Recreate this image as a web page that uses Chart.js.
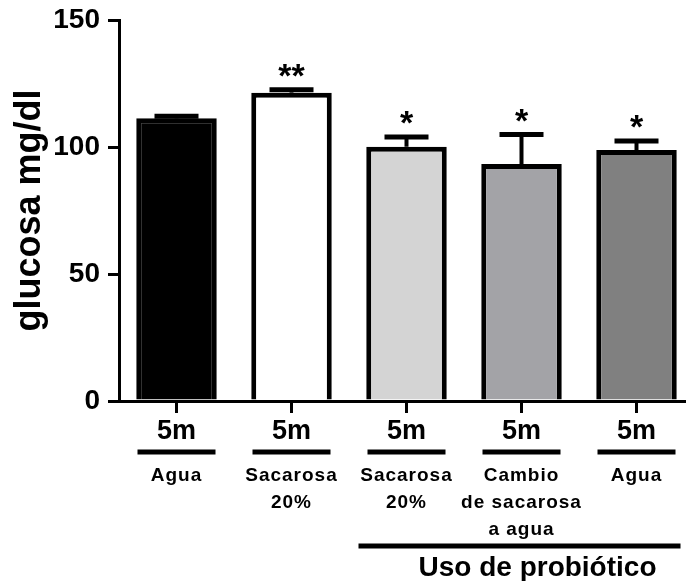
<!DOCTYPE html>
<html>
<head>
<meta charset="utf-8">
<script src="https://cdn.jsdelivr.net/npm/chart.js@4/dist/chart.umd.min.js"></script>
<style>
  html, body { margin: 0; padding: 0; background: #fff; overflow: hidden; }
  #wrap { width: 686px; height: 581px; overflow: hidden; position: relative; }
  #box { width: 710px; height: 581px; }
</style>
</head>
<body>
<div id="wrap"><div id="box"><canvas id="chart"></canvas></div></div>
<script>
const timeLabels = ['5m', '5m', '5m', '5m', '5m'];
const groupLabels = [
  ['Agua'],
  ['Sacarosa', '20%'],
  ['Sacarosa', '20%'],
  ['Cambio', 'de sacarosa', 'a agua'],
  ['Agua']
];
const glucose = [111.3, 121.4, 100.1, 93.3, 98.8];
const errorTop = [112.1, 122.5, 103.9, 104.9, 102.4];
const stars = ['', '**', '*', '*', '*'];
const barColors = ['#000000', '#ffffff', '#d4d4d4', '#a3a3a7', '#808080'];
const yTicks = [0, 50, 100, 150];
const probioticLabel = 'Uso de probiótico';
const probioticFrom = 2;
const probioticTo = 4;

const FONT = "Arial, 'Liberation Sans', sans-serif";

const annotations = {
  id: 'annotations',
  afterDatasetsDraw(chart) {
    const { ctx, scales: { x, y } } = chart;
    ctx.save();
    ctx.strokeStyle = '#000';
    ctx.fillStyle = '#000';

    // error bars + significance marks
    glucose.forEach((v, i) => {
      const cx = x.getPixelForValue(i);
      const yBar = y.getPixelForValue(v);
      const yErr = y.getPixelForValue(errorTop[i]);
      ctx.lineWidth = 4;
      ctx.beginPath();
      ctx.moveTo(cx, yBar);
      ctx.lineTo(cx, yErr);
      ctx.stroke();
      ctx.lineWidth = 5;
      ctx.beginPath();
      ctx.moveTo(cx - 22, yErr);
      ctx.lineTo(cx + 22, yErr);
      ctx.stroke();

      if (stars[i]) {
        ctx.font = `bold 34px ${FONT}`;
        ctx.textAlign = 'center';
        ctx.textBaseline = 'alphabetic';
        ctx.fillText(stars[i], cx, yErr - 3);
      }
    });
    ctx.restore();
  },
  afterDraw(chart) {
    const { ctx, scales: { x } } = chart;
    ctx.save();
    ctx.fillStyle = '#000';
    ctx.strokeStyle = '#000';

    // underline + group text for each bar
    groupLabels.forEach((lines, i) => {
      const cx = x.getPixelForValue(i);
      ctx.lineWidth = 5;
      ctx.beginPath();
      ctx.moveTo(cx - 39, 452);
      ctx.lineTo(cx + 39, 452);
      ctx.stroke();

      ctx.font = `bold 19px ${FONT}`;
      ctx.letterSpacing = '1px';
      ctx.textAlign = 'center';
      ctx.textBaseline = 'middle';
      lines.forEach((t, k) => {
        ctx.fillText(t, cx, 476 + k * 27);
      });
    });

    // probiotic bracket
    const x0 = x.getPixelForValue(probioticFrom) - 48;
    const x1 = x.getPixelForValue(probioticTo) + 44;
    ctx.lineWidth = 5;
    ctx.beginPath();
    ctx.moveTo(x0, 546);
    ctx.lineTo(x1, 546);
    ctx.stroke();

    ctx.letterSpacing = '0px';
    ctx.font = `bold 28px ${FONT}`;
    ctx.textAlign = 'center';
    ctx.textBaseline = 'middle';
    ctx.fillText(probioticLabel, x.getPixelForValue(3) + 16, 568);
    ctx.restore();
  }
};

new Chart(document.getElementById('chart'), {
  type: 'bar',
  data: {
    labels: timeLabels,
    datasets: [{
      data: glucose,
      backgroundColor: barColors,
      borderColor: '#000',
      borderWidth: 5,
      categoryPercentage: 1,
      barPercentage: 0.7
    }]
  },
  options: {
    responsive: true,
    maintainAspectRatio: false,
    animation: false,
    layout: { padding: { top: 20, right: 16, left: 0, bottom: 0 } },
    plugins: {
      legend: { display: false },
      tooltip: { enabled: false }
    },
    scales: {
      x: {
        afterFit: (scale) => { scale.height = 180; },
        border: { color: '#000', width: 3 },
        grid: {
          offset: false,
          drawOnChartArea: false,
          color: '#000',
          lineWidth: 3,
          tickLength: 12
        },
        ticks: {
          color: '#000',
          padding: 2,
          font: { family: FONT, size: 27, weight: 'bold' }
        }
      },
      y: {
        min: 0,
        max: 150,
        afterFit: (scale) => {
          scale.width = 119;
          scale.paddingTop = 0;
          scale.paddingBottom = 0;
        },
        afterBuildTicks: (scale) => { scale.ticks = yTicks.map((v) => ({ value: v })); },
        border: { color: '#000', width: 3 },
        grid: {
          drawOnChartArea: false,
          color: '#000',
          lineWidth: 3,
          tickLength: 11
        },
        ticks: {
          color: '#000',
          padding: 8,
          font: { family: FONT, size: 28, weight: 'bold', lineHeight: 1 }
        },
        title: {
          display: true,
          text: 'glucosa mg/dl',
          color: '#000',
          padding: { top: 8, bottom: 0 },
          font: { family: FONT, size: 36, weight: 'bold' }
        }
      }
    }
  },
  plugins: [annotations]
});
</script>
</body>
</html>
